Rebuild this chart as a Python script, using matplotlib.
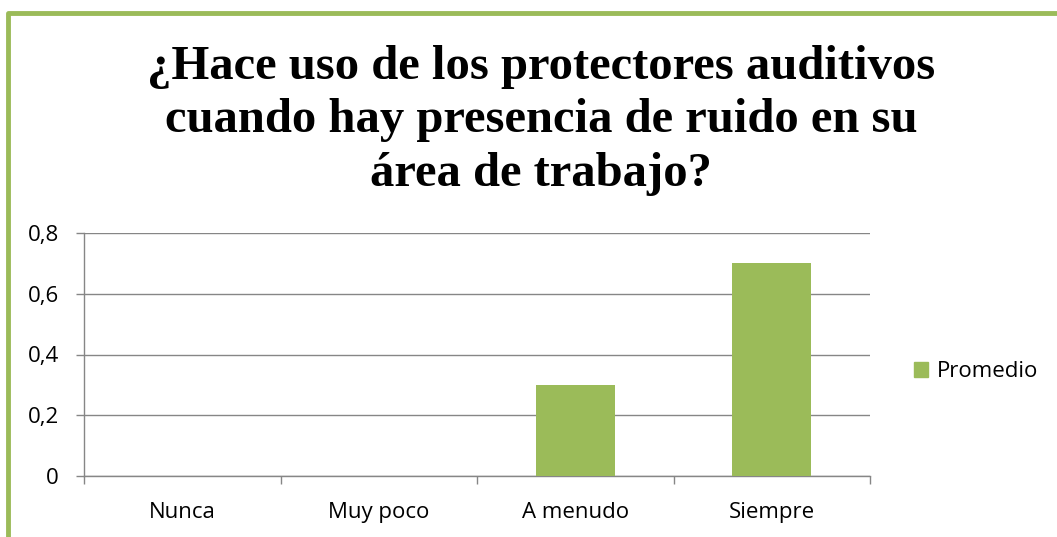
import matplotlib
matplotlib.use("Agg")
from matplotlib import pyplot as plt
from matplotlib.lines import Line2D
from matplotlib.patches import Patch

categories = ["Nunca", "Muy poco", "A menudo", "Siempre"]
promedio = [0, 0, 0.3, 0.7]
y_ticks = [0, 0.2, 0.4, 0.6, 0.8]
y_labels = ["0", "0,2", "0,4", "0,6", "0,8"]

green = "#9BBB59"
gray = "#868686"

fig = plt.figure(figsize=(10.57, 5.37), dpi=100)
ax = fig.add_axes([84 / 1057, 1 - 476 / 537, (870 - 84) / 1057, (476 - 233) / 537])

ax.bar(range(len(categories)), promedio, width=0.4, color=green, zorder=3)

ax.set_xlim(-0.5, len(categories) - 0.5)
ax.set_ylim(0, 0.8)
ax.set_yticks(y_ticks)
ax.set_yticklabels(y_labels)
ax.yaxis.grid(True, color=gray, linewidth=1)
ax.set_axisbelow(True)

# category boundaries get the ticks, names sit in between
ax.set_xticks([i - 0.5 for i in range(len(categories) + 1)])
ax.set_xticklabels([])
ax.set_xticks(range(len(categories)), minor=True)
ax.set_xticklabels(categories, minor=True)
ax.tick_params(axis="x", which="major", length=6, color=gray, width=1)
ax.tick_params(axis="x", which="minor", length=0, pad=19)
ax.tick_params(axis="y", length=6, color=gray, width=1, pad=12)
for lab in ax.get_xticklabels(minor=True) + ax.get_yticklabels():
    lab.set_fontfamily("Open Sans")
    lab.set_fontsize(16)

for side in ["top", "right"]:
    ax.spines[side].set_visible(False)
for side in ["left", "bottom"]:
    ax.spines[side].set_color(gray)
    ax.spines[side].set_linewidth(1)

ax.legend(handles=[Patch(color=green, label="Promedio")], loc="center left",
          bbox_to_anchor=(1.03, 0.43), frameon=False, handlelength=0.65,
          handleheight=0.65, handletextpad=0.4, prop={"family": "Open Sans", "size": 16})

fig.text(0.512, 0.776,
         "¿Hace uso de los protectores auditivos\ncuando hay presencia de ruido en su\nárea de trabajo?",
         ha="center", va="center", fontsize=35, fontweight="bold",
         family="Liberation Serif", linespacing=1.28)

# green chart-area border, cut off on the right and bottom
fig.add_artist(Line2D([8 / 1057, 8 / 1057, 1.0], [0.0, 1 - 13 / 537, 1 - 13 / 537],
                      color=green, linewidth=3.5, transform=fig.transFigure))

fig.savefig("out.png", dpi=100)
